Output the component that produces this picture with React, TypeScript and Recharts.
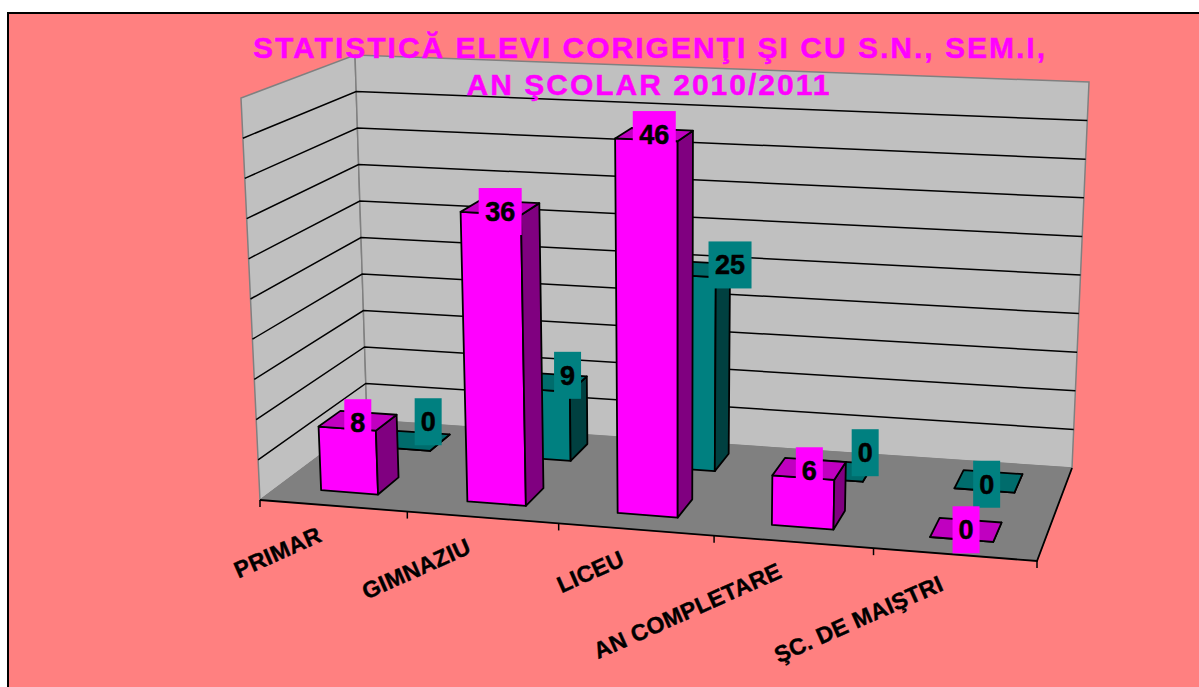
import { BarChart, Bar, XAxis, YAxis, LabelList, Customized } from 'recharts'

const categories = ['PRIMAR', 'GIMNAZIU', 'LICEU', 'AN COMPLETARE', 'ŞC. DE MAIŞTRI']
const corigenti = [8, 36, 46, 6, 0]
const sn = [0, 9, 25, 0, 0]
const valueTicks = [5, 10, 15, 20, 25, 30, 35, 40, 45, 50]
const titleLines = ['STATISTICĂ ELEVI CORIGENŢI ŞI CU S.N., SEM.I,', 'AN ŞCOLAR 2010/2011']

const tableRows = categories.map((name, i) => ({ name, corigenti: corigenti[i], sn: sn[i] }))

const W = 1199
const H = 687
const PLOT = { left: 260, top: 98, width: 777, height: 402 }
const MAX_VALUE = 50

type Pt = [number, number]

// corners of the 3d box as seen on screen
const FRONT_BOTTOM_L: Pt = [260, 500]
const FRONT_BOTTOM_R: Pt = [1037, 561]
const BACK_BOTTOM_L: Pt = [367, 420]
const BACK_BOTTOM_R: Pt = [1072, 468]
const FRONT_TOP_L: Pt = [241, 98]
const FRONT_TOP_R: Pt = [1053, 133]
const BACK_TOP_L: Pt = [355, 55]
const BACK_TOP_R: Pt = [1089, 82]

const mix = (a: Pt, b: Pt, t: number): Pt => [a[0] + (b[0] - a[0]) * t, a[1] + (b[1] - a[1]) * t]

// u across categories, d front to back, v up the value axis (all 0..1)
function project(u: number, d: number, v: number): Pt {
  const w = u + 0.065 * u * (u - 1) // slight perspective along the floor
  const bottom = mix(mix(FRONT_BOTTOM_L, FRONT_BOTTOM_R, w), mix(BACK_BOTTOM_L, BACK_BOTTOM_R, w), d)
  const top = mix(mix(FRONT_TOP_L, FRONT_TOP_R, w), mix(BACK_TOP_L, BACK_TOP_R, w), d)
  return mix(bottom, top, v)
}

const toU = (x: number) => (x - PLOT.left) / PLOT.width
const toV = (y: number) => (PLOT.top + PLOT.height - y) / PLOT.height
const pts = (list: Pt[]) => list.map((p) => p.join(',')).join(' ')

const MAGENTA = { front: '#ff00ff', top: '#c000c0', side: '#800080', near: 0.165, far: 0.375 }
const TEAL = { front: '#008080', top: '#006c6c', side: '#004040', near: 0.7, far: 0.9 }

function Walls() {
  const floor = [project(0, 0, 0), project(1, 0, 0), project(1, 1, 0), project(0, 1, 0)]
  const left = [project(0, 0, 0), project(0, 1, 0), project(0, 1, 1), project(0, 0, 1)]
  const back = [project(0, 1, 0), project(1, 1, 0), project(1, 1, 1), project(0, 1, 1)]
  return (
    <g>
      <polygon points={pts(left)} fill="#c0c0c0" stroke="#808080" strokeWidth={1.5} />
      <polygon points={pts(back)} fill="#c0c0c0" stroke="#808080" strokeWidth={1.5} />
      {valueTicks.slice(0, -1).map((t) => (
        <polyline
          key={t}
          points={pts([project(0, 0, t / MAX_VALUE), project(0, 1, t / MAX_VALUE), project(1, 1, t / MAX_VALUE)])}
          fill="none"
          stroke="#000"
          strokeWidth={1.5}
        />
      ))}
      <polygon points={pts(floor)} fill="#808080" stroke="#808080" strokeWidth={1} />
      <polyline points={pts([project(0, 0, 0), project(1, 0, 0), project(1, 1, 0)])} fill="none" stroke="#000" strokeWidth={1.8} />
      {[0, 1, 2, 3, 4, 5].map((i) => {
        const [x, y] = project(i / categories.length, 0, 0)
        return <line key={i} x1={x} y1={y} x2={x} y2={y + 7} stroke="#000" strokeWidth={1.5} />
      })}
    </g>
  )
}

function Title() {
  return (
    <g>
      {titleLines.map((line, i) => (
        <text
          key={line}
          x={650 - i * 1}
          y={58 + i * 37}
          textAnchor="middle"
          fontFamily="Liberation Sans"
          fontWeight="bold"
          fontSize={30}
          letterSpacing={2}
          stroke="#ff00ff"
          strokeWidth={0.5}
          fill="#ff00ff"
        >
          {line}
        </text>
      ))}
    </g>
  )
}

function Box3D({ x, y, width, height, look }: any) {
  const u0 = toU(x)
  const u1 = toU(x + width)
  const v = toV(y)
  const vBase = toV(y + height)
  const { near, far } = look
  const front = [project(u0, near, vBase), project(u1, near, vBase), project(u1, near, v), project(u0, near, v)]
  const side = [project(u1, near, vBase), project(u1, far, vBase), project(u1, far, v), project(u1, near, v)]
  const top = [project(u0, near, v), project(u1, near, v), project(u1, far, v), project(u0, far, v)]
  return (
    <g stroke="#000" strokeWidth={1.8} strokeLinejoin="round">
      <polygon points={pts(front)} fill={look.front} />
      <polygon points={pts(side)} fill={look.side} />
      <polygon points={pts(top)} fill={look.top} />
    </g>
  )
}

// labels sit off the top face, by a different amount per category
const tealLabelShift: Pt[] = [[15, -19], [17, -7], [36, -4], [26, -18], [-2, 3]]
const magentaLabelShift: Pt[] = [[0, 2], [0, 4], [0, 0], [0, 2], [0, 0]]

function BoxLabel({ viewBox, x, y, width, value, index, look, shifts }: any) {
  const box = viewBox ?? { x, y, width }
  const u = toU(box.x + box.width / 2)
  const v = toV(box.y)
  const [cx, cy] = project(u, (look.near + look.far) / 2, v)
  const shift = shifts[index]
  const w = String(value).length > 1 ? 43 : 27
  const lx = cx + shift[0]
  const ly = cy + shift[1]
  return (
    <g>
      <rect x={lx - w / 2} y={ly - 23.5} width={w} height={47} fill={look.front} />
      <text
        x={lx}
        y={ly + 9.5}
        textAnchor="middle"
        fontFamily="Liberation Sans"
        fontWeight="bold"
        fontSize={27}
        stroke="#000"
        strokeWidth={0.5}
        fill="#000"
      >
        {value}
      </text>
    </g>
  )
}

function CategoryTick({ x, payload }: any) {
  const [px, py] = project(toU(x), 0, 0)
  const ax = px - 10
  const ay = py + 35
  return (
    <text
      x={ax}
      y={ay}
      transform={`rotate(-24 ${ax} ${ay})`}
      textAnchor="end"
      fontFamily="Liberation Sans"
      fontWeight="bold"
      fontSize={23}
      letterSpacing={0.3}
      stroke="#000"
      strokeWidth={0.4}
      fill="#000"
    >
      {payload.value}
    </text>
  )
}

export default function App() {
  return (
    <div style={{ position: 'absolute', left: 0, top: 0, width: W, height: H, overflow: 'hidden', background: '#fff' }}>
      <div
        style={{
          position: 'absolute',
          left: 7,
          top: 12,
          width: W + 40,
          height: H + 40,
          background: '#ff8080',
          border: '2px solid #000',
        }}
      />
      <div style={{ position: 'absolute', left: 0, top: 0 }}>
        <BarChart
          width={W}
          height={H}
          data={tableRows}
          barSize={61}
          barGap={-61}
          margin={{ left: PLOT.left, right: W - PLOT.left - PLOT.width, top: PLOT.top, bottom: H - PLOT.top - PLOT.height - 30 }}
        >
          <Customized component={Walls} />
          <XAxis dataKey="name" height={30} axisLine={false} tickLine={false} interval={0} tick={<CategoryTick />} />
          <YAxis hide domain={[0, MAX_VALUE]} />
          <Bar dataKey="sn" isAnimationActive={false} shape={(p: any) => <Box3D {...p} look={TEAL} />}>
            <LabelList dataKey="sn" content={(p: any) => <BoxLabel {...p} look={TEAL} shifts={tealLabelShift} />} />
          </Bar>
          <Bar dataKey="corigenti" isAnimationActive={false} shape={(p: any) => <Box3D {...p} look={MAGENTA} />}>
            <LabelList dataKey="corigenti" content={(p: any) => <BoxLabel {...p} look={MAGENTA} shifts={magentaLabelShift} />} />
          </Bar>
          <Customized component={Title} />
        </BarChart>
      </div>
    </div>
  )
}
